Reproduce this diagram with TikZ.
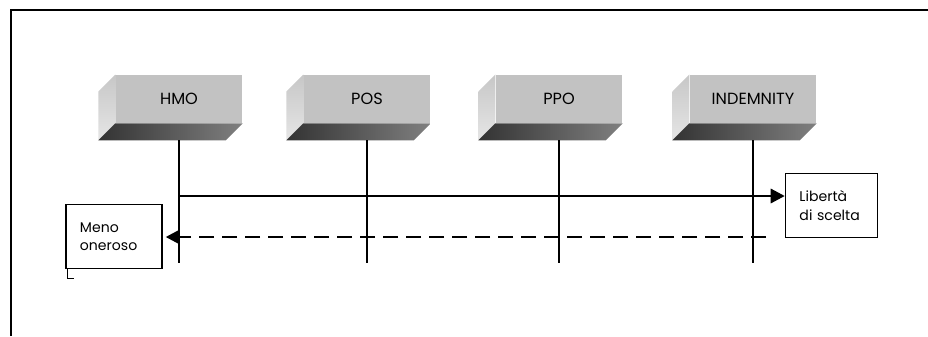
\documentclass[tikz,border=0pt]{standalone}
\usepackage{fontspec}
\setmainfont{Poppins}
\usetikzlibrary{arrows.meta}

\begin{document}
\begin{tikzpicture}[x=0.025cm,y=-0.025cm,line width=1pt,>={Triangle[length=3.5mm,width=3.6mm]},
  faccia/.style={fill=black!24,minimum width=3.15cm,minimum height=1.18cm,inner sep=0pt,font=\fontsize{11.5}{13}\selectfont},
  lato/.style={top color=black!22,bottom color=black!10},
  fondo/.style={left color=black!80,right color=black!50},
  asse/.style={line width=0.9pt},
  casella/.style={draw,line width=1.1pt,align=left,inner xsep=0.35cm,minimum height=1.6cm,font=\fontsize{10}{13}\selectfont},
  freccia/.style={->,line width=1.4pt}]
  \useasboundingbox (0,0) rectangle (928,336);
  % cornice
  \draw[line width=1.3pt] (11,336) -- (11,10) -- (928,10);
  % blocchi
  \node[faccia] (hmo) at (179,99) {HMO};
  \node[faccia] (pos) at (367,99) {POS};
  \node[faccia] (ppo) at (559,99) {PPO};
  \node[faccia] (ind) at (753,99) {INDEMNITY};
  \foreach \b in {hmo,pos,ppo,ind}{
    \shade[lato] (\b.north west) -- ++(-17,17) -- ([shift={(-17,17)}]\b.south west) -- (\b.south west) -- cycle;
    \shade[fondo] (\b.south west) -- (\b.south east) -- ++(-17,17) -- ([shift={(-17,17)}]\b.south west) -- cycle;
    \path (\b.south) ++(0,17) coordinate (\b-a);
    \draw[asse] (\b-a) -- (\b-a |- 0,263);
  }
  % caselle
  \node[casella,text width=1.7cm] (meno) at (114,236.5) {Meno\\oneroso};
  \node[casella,text width=1.6cm] (lib) at (831.5,205.5) {Libertà\\di scelta};
  \draw[line width=0.8pt] ([xshift=2*0.025cm]meno.south west) -- ++(0,9) -- ++(7,0);
  % frecce
  \coordinate (p1) at (hmo-a |- 0,196);
  \draw[freccia] (p1) -- (p1 -| lib.west);
  \coordinate (p2) at (766,237);
  \draw[freccia,dash pattern=on 15*0.025cm off 8*0.025cm,shorten >=3*0.025cm] (p2) -- (p2 -| meno.east);
\end{tikzpicture}
\end{document}
